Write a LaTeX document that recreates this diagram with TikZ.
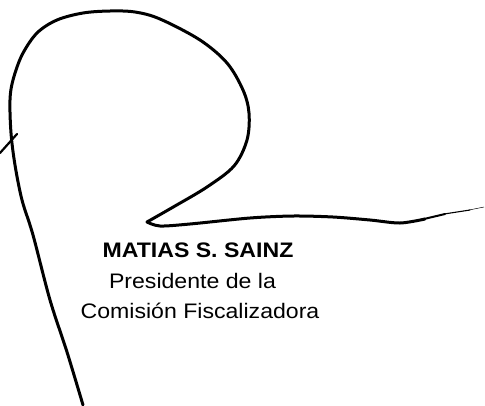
\documentclass[tikz,border=0pt]{standalone}
\usepackage{fontspec}
\setmainfont{Liberation Sans}[FakeStretch=1.1]
\begin{document}
\begin{tikzpicture}[x=1pt,y=-1pt,
  ink/.style={line width=3pt,line cap=round,line join=round,black},
  label/.style={anchor=base,inner sep=0pt,font=\fontsize{21}{25}\selectfont}]
\useasboundingbox (0,0) rectangle (485,405);
% signature loop
\draw[ink] plot[smooth,tension=0.55] coordinates {
  (83,405) (67,352) (50,300) (33,235) (22,200) (15,165) (11,133) (10,100)
  (13,80) (22,55) (37,33) (57,20) (83,13) (110,11) (135,12) (160,19)
  (200,40) (227,63) (243,90) (249,113) (247,140) (234,166) (207,187)
  (175,206) (147,222)};
\draw[ink] plot[smooth,tension=0.5] coordinates {
  (147,222) (160,226) (190,224) (250,218) (293,216) (333,217) (370,220)
  (400,223) (425,219)};
\draw[line width=2pt,line cap=round] (424,219) -- (445,214);
\draw[line width=1.1pt,line cap=round] (444,214) -- (470,210);
\draw[line width=0.5pt,line cap=round] (469,210) -- (484,207);
% tick mark
\draw[line width=2.2pt,line cap=round] (0,153) -- (17,134);
% text
\node[label,font=\fontsize{21}{25}\selectfont\bfseries] (name) at (198,257) {MATIAS S. SAINZ};
\node[label] (role1) at (192.5,288) {Presidente de la};
\node[label] (role2) at (200,318) {Comisión Fiscalizadora};
\end{tikzpicture}
\end{document}
